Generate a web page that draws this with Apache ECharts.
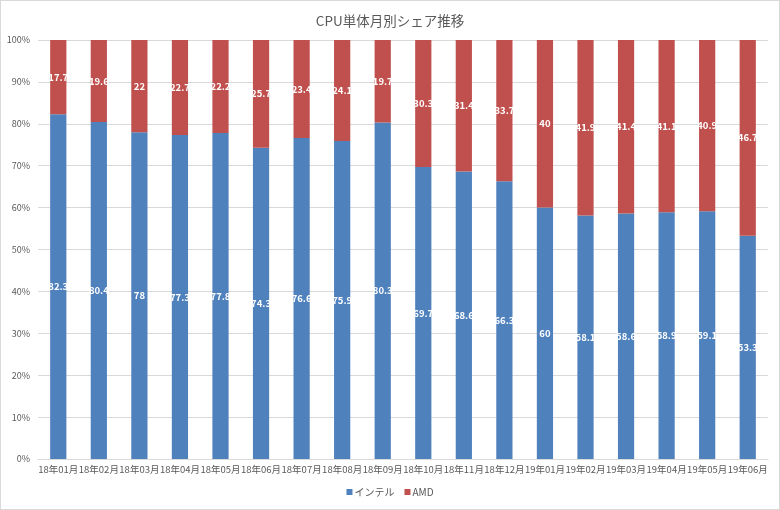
<!DOCTYPE html>
<html><head><meta charset="utf-8">
<script src="https://cdn.jsdelivr.net/npm/echarts@6/dist/echarts.min.js"></script>
<style>html,body{margin:0;padding:0;background:#fff}#c{width:778px;height:508px;border:1px solid #d9d9d9}</style>
</head><body><div id="c"></div>
<script>
var categories = ["18年01月","18年02月","18年03月","18年04月","18年05月","18年06月","18年07月","18年08月","18年09月","18年10月","18年11月","18年12月","19年01月","19年02月","19年03月","19年04月","19年05月","19年06月"];
var intel = [82.3,80.4,78,77.3,77.8,74.3,76.6,75.9,80.3,69.7,68.6,66.3,60,58.1,58.6,58.9,59.1,53.3];
var amd = [17.7,19.6,22,22.7,22.2,25.7,23.4,24.1,19.7,30.3,31.4,33.7,40,41.9,41.4,41.1,40.9,46.7];
var yTicks = [0,10,20,30,40,50,60,70,80,90,100];
var font = '"Noto Sans CJK JP","Noto Sans",sans-serif';
var chart = echarts.init(document.getElementById('c'));
var lbl = {show:true,position:'inside',color:'#fff',fontWeight:'bold',fontSize:9.5,fontFamily:font};
chart.setOption({
  animation:false,
  title:{text:'CPU単体月別シェア推移',left:'center',top:8,textStyle:{color:'#595959',fontSize:13.5,fontWeight:'normal',fontFamily:font}},
  legend:{bottom:7,left:'center',itemWidth:6,itemHeight:6,itemGap:10,icon:'rect',textStyle:{color:'#595959',fontSize:10,fontFamily:font,padding:[0,0,0,-3]},data:['インテル','AMD']},
  grid:{left:37,right:11,top:39,bottom:50,containLabel:false},
  xAxis:{type:'category',data:categories,axisTick:{show:false},axisLine:{lineStyle:{color:'#d9d9d9'}},
    axisLabel:{color:'#595959',fontSize:9.5,fontFamily:font,interval:0,margin:6}},
  yAxis:{type:'value',min:0,max:100,interval:10,axisLine:{show:false},axisTick:{show:false},
    splitLine:{lineStyle:{color:'#d9d9d9'}},
    axisLabel:{color:'#595959',fontSize:9,fontFamily:font,margin:8,formatter:function(v){return yTicks.indexOf(v)>=0? v+'%':'';}}},
  series:[
    {name:'インテル',type:'bar',stack:'s',data:intel,barWidth:'40%',itemStyle:{color:'#4F81BD'},label:lbl},
    {name:'AMD',type:'bar',stack:'s',data:amd,barWidth:'40%',itemStyle:{color:'#C0504D'},label:lbl}
  ]
});
</script></body></html>
